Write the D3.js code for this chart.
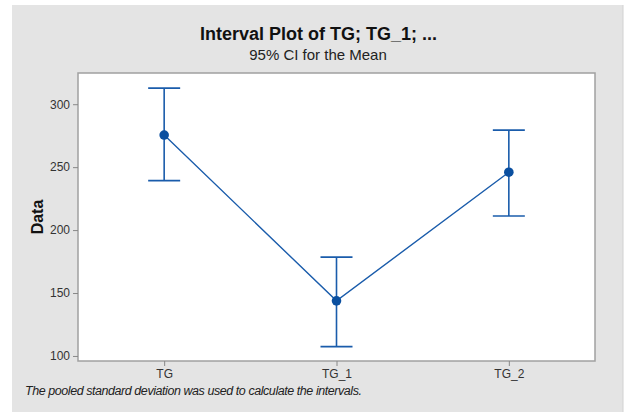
<!DOCTYPE html>
<html>
<head>
<meta charset="utf-8">
<script src="https://cdn.jsdelivr.net/npm/d3@7"></script>
<style>
  html, body { margin: 0; padding: 0; background: #ffffff; }
  svg { display: block; }
</style>
</head>
<body>
<svg id="chart" width="626" height="412"></svg>
<script>
// Interval plot: means with 95% confidence intervals
const categories = ["TG", "TG_1", "TG_2"];
const means      = [275.5, 143.8, 246.0];
const lowerCI    = [239.3, 107.4, 211.2];
const upperCI    = [312.8, 178.5, 279.4];
const yTicks     = [100, 150, 200, 250, 300];

const svg = d3.select("#chart");
const W = 626, H = 412;
const frame = { left: 78, right: 595, top: 73, bottom: 361 };

// outer panel
svg.append("rect")
  .attr("x", 12).attr("y", 5)
  .attr("width", 611).attr("height", H - 5)
  .attr("fill", "#e4e4e4");
svg.append("line")
  .attr("x1", 623).attr("x2", 623).attr("y1", 5).attr("y2", H)
  .attr("stroke", "#d2d2d2").attr("stroke-width", 1);

const x = d3.scalePoint()
  .domain(categories)
  .range([frame.left, frame.right])
  .padding(0.5);

const y = d3.scaleLinear()
  .domain([96, 324.8])
  .range([frame.bottom, frame.top]);

// plotting region
svg.append("rect")
  .attr("x", frame.left).attr("y", frame.top)
  .attr("width", frame.right - frame.left)
  .attr("height", frame.bottom - frame.top)
  .attr("fill", "#ffffff")
  .attr("stroke", "#a0a0a0")
  .attr("stroke-width", 1.5);

// axes
const yAxis = svg.append("g")
  .attr("transform", `translate(${frame.left},0)`)
  .call(d3.axisLeft(y).tickValues(yTicks).tickSize(5).tickPadding(3));
yAxis.select(".domain").remove();
yAxis.selectAll(".tick line").attr("stroke", "#888");
yAxis.selectAll(".tick text")
  .attr("fill", "#333")
  .style("font-family", "'Liberation Sans', Arial, sans-serif")
  .style("font-size", "12px");

const xAxis = svg.append("g")
  .attr("transform", `translate(0,${frame.bottom})`)
  .call(d3.axisBottom(x).tickSize(5).tickPadding(3));
xAxis.select(".domain").remove();
xAxis.selectAll(".tick line").attr("stroke", "#888");
xAxis.selectAll(".tick text")
  .attr("fill", "#333")
  .style("font-family", "'Liberation Sans', Arial, sans-serif")
  .style("font-size", "12px");

// titles
svg.append("text")
  .attr("x", 318.5).attr("y", 40)
  .attr("text-anchor", "middle")
  .attr("fill", "#111")
  .style("font-family", "'Liberation Sans', Arial, sans-serif")
  .style("font-size", "18px")
  .style("font-weight", "bold")
  .text("Interval Plot of TG; TG_1; ...");
svg.append("text")
  .attr("x", 318).attr("y", 60)
  .attr("text-anchor", "middle")
  .attr("fill", "#222")
  .style("font-family", "'Liberation Sans', Arial, sans-serif")
  .style("font-size", "15px")
  .text("95% CI for the Mean");

svg.append("text")
  .attr("transform", `translate(43,${(frame.top + frame.bottom) / 2}) rotate(-90)`)
  .attr("text-anchor", "middle")
  .attr("fill", "#111")
  .style("font-family", "'Liberation Sans', Arial, sans-serif")
  .style("font-size", "16px")
  .style("font-weight", "bold")
  .text("Data");

svg.append("text")
  .attr("x", 25).attr("y", 395)
  .attr("fill", "#222")
  .attr("textLength", 337)
  .attr("lengthAdjust", "spacing")
  .style("font-family", "'Liberation Sans', Arial, sans-serif")
  .style("font-size", "12.5px")
  .style("font-style", "italic")
  .text("The pooled standard deviation was used to calculate the intervals.");

// interval bars
const blue = "#1a5cab";
const capHalf = 16;
const g = svg.append("g");
categories.forEach((c, i) => {
  const cx = x(c);
  g.append("line")
    .attr("x1", cx).attr("x2", cx)
    .attr("y1", y(lowerCI[i])).attr("y2", y(upperCI[i]))
    .attr("stroke", blue).attr("stroke-width", 1.6);
  [lowerCI[i], upperCI[i]].forEach(v => {
    g.append("line")
      .attr("x1", cx - capHalf).attr("x2", cx + capHalf)
      .attr("y1", y(v)).attr("y2", y(v))
      .attr("stroke", blue).attr("stroke-width", 1.6);
  });
});

// connecting line through means
const line = d3.line()
  .x((d, i) => x(categories[i]))
  .y(d => y(d));
g.append("path")
  .datum(means)
  .attr("d", line)
  .attr("fill", "none")
  .attr("stroke", blue)
  .attr("stroke-width", 1.4);

g.selectAll("circle.mean")
  .data(means)
  .enter().append("circle")
  .attr("class", "mean")
  .attr("cx", (d, i) => x(categories[i]))
  .attr("cy", d => y(d))
  .attr("r", 4.8)
  .attr("fill", "#0a4fa0");
</script>
</body>
</html>
